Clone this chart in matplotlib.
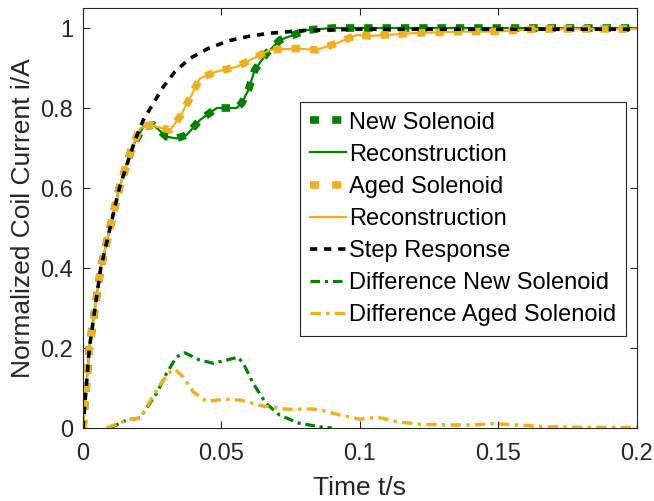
import matplotlib
matplotlib.use("Agg")
import matplotlib.pyplot as plt

plt.rcParams['font.family'] = ['Liberation Sans', 'DejaVu Sans']

GREEN = '#008000'
YELLOW = '#EDB120'

# new solenoid measurement (reconstruction follows it closely)
t_new = [0, 0.0023, 0.0064, 0.0131, 0.0176, 0.0218, 0.0254, 0.0302, 0.0338, 0.0374,
         0.0422, 0.0483, 0.0555, 0.0573, 0.0597, 0.062, 0.0663, 0.0711, 0.0808, 0.0903,
         0.11, 0.13, 0.16, 0.2]
i_new = [0, 0.2, 0.4, 0.6, 0.7, 0.753, 0.7575, 0.728, 0.724, 0.7325,
         0.77, 0.80, 0.80, 0.812, 0.845, 0.895, 0.937, 0.97, 0.995, 1.0,
         1.0, 1.0, 1.0, 1.0]

# aged solenoid measurement
t_aged = [0, 0.0023, 0.0064, 0.0131, 0.0176, 0.0206, 0.0242, 0.0314, 0.035, 0.0386,
          0.0422, 0.0483, 0.0555, 0.0627, 0.0675, 0.077, 0.0843, 0.0916, 0.0988,
          0.1036, 0.119, 0.137, 0.149, 0.164, 0.2]
i_aged = [0, 0.2, 0.4, 0.6, 0.7, 0.749, 0.7575, 0.745, 0.778, 0.824,
          0.874, 0.891, 0.903, 0.928, 0.945, 0.949, 0.945, 0.962, 0.9825,
          0.98, 0.987, 0.991, 0.991, 0.9975, 0.9975]

# ideal step response
t_step = [0, 0.0023, 0.0064, 0.0131, 0.0188, 0.0218, 0.0254, 0.029, 0.0332, 0.0386,
          0.0452, 0.0525, 0.0603, 0.0675, 0.08, 0.1, 0.2]
i_step = [0, 0.2, 0.4, 0.6, 0.72, 0.77, 0.812, 0.853, 0.891, 0.924,
          0.949, 0.968, 0.98, 0.987, 0.994, 0.997, 0.997]

# differences to the step response
t_dnew = [0.0097, 0.0158, 0.0206, 0.0266, 0.0302, 0.0338, 0.0368, 0.042, 0.047, 0.052,
          0.056, 0.058, 0.0614, 0.066, 0.071, 0.078, 0.0856, 0.0898]
d_new = [0, 0.02, 0.025, 0.087, 0.137, 0.178, 0.188, 0.17, 0.162, 0.17,
         0.177, 0.16, 0.112, 0.062, 0.032, 0.012, 0.003, 0.0]

t_daged = [0.0085, 0.0158, 0.0206, 0.0266, 0.0307, 0.0332, 0.0361, 0.0397, 0.0447, 0.0505,
           0.0567, 0.065, 0.0735, 0.083, 0.0856, 0.0928, 0.1, 0.1065, 0.113, 0.1217,
           0.1336, 0.142, 0.148, 0.158, 0.1674, 0.182, 0.2]
d_aged = [0, 0.02, 0.025, 0.095, 0.137, 0.147, 0.128, 0.091, 0.066, 0.072,
          0.07, 0.055, 0.047, 0.0475, 0.045, 0.0325, 0.022, 0.027, 0.016, 0.009,
          0.0075, 0.008, 0.011, 0.007, 0.003, 0.002, 0.001]

fig = plt.figure(figsize=(6.54, 5.01), dpi=100)
ax = fig.add_axes([0.1269, 0.1457, 0.8471, 0.8383])

sq = dict(linestyle=(0, (1.1, 1.3)), linewidth=5.5, dash_capstyle='butt')
ax.plot(t_new, i_new, color=GREEN, label='New Solenoid', **sq)
ax.plot(t_new, i_new, color=GREEN, linewidth=1.6, label='Reconstruction')
ax.plot(t_aged, i_aged, color=YELLOW, label='Aged Solenoid', **sq)
ax.plot(t_aged, i_aged, color=YELLOW, linewidth=1.6, label='Reconstruction')
ax.plot(t_step, i_step, color='black', linestyle=(0, (2.0, 1.9)), linewidth=2.6,
        label='Step Response')
ax.plot(t_dnew, d_new, color=GREEN, linestyle=(0, (3, 1.5, 1, 1.5)), linewidth=2.3,
        label='Difference New Solenoid')
ax.plot(t_daged, d_aged, color=YELLOW, linestyle=(0, (3, 1.5, 1, 1.5)), linewidth=2.5,
        label='Difference Aged Solenoid')

ax.set_xlim(0, 0.2)
ax.set_ylim(0, 1.05)
ax.set_xticks([0, 0.05, 0.1, 0.15, 0.2])
ax.set_xticklabels(['0', '0.05', '0.1', '0.15', '0.2'])
ax.set_yticks([0, 0.2, 0.4, 0.6, 0.8, 1])
ax.set_yticklabels(['0', '0.2', '0.4', '0.6', '0.8', '1'])
ax.tick_params(direction='in', top=True, right=True, length=5, width=0.8,
               labelsize=17, colors='#262626', pad=7)
ax.tick_params(axis='x', pad=11)
for s in ax.spines.values():
    s.set_color('#262626')
    s.set_linewidth(0.8)
ax.set_xlabel('Time t/s', fontsize=19, color='#262626', labelpad=8)
ax.set_ylabel('Normalized Coil Current i/A', fontsize=19, color='#262626', labelpad=4)

leg = ax.legend(loc='upper left', bbox_to_anchor=(0.392, 0.776), fontsize=17,
                handlelength=1.55, handletextpad=0.12, borderpad=0.4,
                labelspacing=0.43, fancybox=False, edgecolor='#262626',
                framealpha=1, borderaxespad=0)
leg.get_frame().set_linewidth(0.8)
# two square dots in the legend keys of the measured curves
for h in leg.get_lines()[0:3:2]:
    h.set_linestyle((0, (1.2, 1.7)))

fig.savefig('out.png', dpi=100)
